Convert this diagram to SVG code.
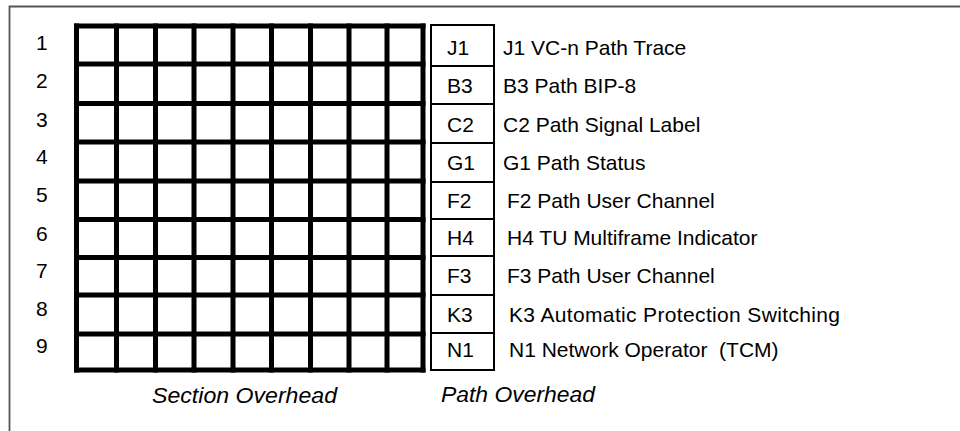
<svg xmlns="http://www.w3.org/2000/svg" width="960" height="431" viewBox="0 0 960 431">
<style>
text{font-family:"Liberation Sans",Arial,sans-serif;font-size:21px;fill:#000;white-space:pre}
.it{font-style:italic;font-size:22px}
.grid line{stroke:#000;stroke-width:5}
.poh rect{fill:#fff;stroke:#000;stroke-width:2}
.frame{stroke:#555;stroke-width:1.8;fill:none}
</style>
<rect width="960" height="431" fill="#fff"/>
<path class="frame" d="M9.5,431 V6.5 H960"/>
<g id="row-numbers">
<text x="36" y="50">1</text>
<text x="36" y="88">2</text>
<text x="36" y="127">3</text>
<text x="36" y="164">4</text>
<text x="36" y="202">5</text>
<text x="36" y="241">6</text>
<text x="36" y="278">7</text>
<text x="36" y="316">8</text>
<text x="36" y="353">9</text>
</g>
<g id="section-overhead" class="grid">
<rect x="76.5" y="26" width="346.5" height="344" fill="#fff"/>
<line x1="76.5" y1="23.5" x2="76.5" y2="372.5"/>
<line x1="116.5" y1="23.5" x2="116.5" y2="372.5"/>
<line x1="155.5" y1="23.5" x2="155.5" y2="372.5"/>
<line x1="194" y1="23.5" x2="194" y2="372.5"/>
<line x1="233" y1="23.5" x2="233" y2="372.5"/>
<line x1="271.5" y1="23.5" x2="271.5" y2="372.5"/>
<line x1="310.5" y1="23.5" x2="310.5" y2="372.5"/>
<line x1="349" y1="23.5" x2="349" y2="372.5"/>
<line x1="387" y1="23.5" x2="387" y2="372.5"/>
<line x1="423" y1="23.5" x2="423" y2="372.5"/>
<line x1="74" y1="26" x2="425.5" y2="26"/>
<line x1="74" y1="64" x2="425.5" y2="64"/>
<line x1="74" y1="103.5" x2="425.5" y2="103.5"/>
<line x1="74" y1="142" x2="425.5" y2="142"/>
<line x1="74" y1="181" x2="425.5" y2="181"/>
<line x1="74" y1="219.5" x2="425.5" y2="219.5"/>
<line x1="74" y1="257.5" x2="425.5" y2="257.5"/>
<line x1="74" y1="295" x2="425.5" y2="295"/>
<line x1="74" y1="334" x2="425.5" y2="334"/>
<line x1="74" y1="370" x2="425.5" y2="370"/>
</g>
<g class="poh">
<g id="J1"><rect x="431" y="25" width="63" height="41"/><text x="447" y="55">J1</text><text x="503" y="55">J1 VC-n Path Trace</text></g>
<g id="B3"><rect x="431" y="66" width="63" height="38"/><text x="447" y="93">B3</text><text x="503" y="93">B3 Path BIP-8</text></g>
<g id="C2"><rect x="431" y="104" width="63" height="39"/><text x="447" y="132">C2</text><text x="503" y="132">C2 Path Signal Label</text></g>
<g id="G1"><rect x="431" y="143" width="63" height="39"/><text x="447" y="170">G1</text><text x="503" y="170">G1 Path Status</text></g>
<g id="F2"><rect x="431" y="182" width="63" height="37"/><text x="447" y="208">F2</text><text x="507" y="208">F2 Path User Channel</text></g>
<g id="H4"><rect x="431" y="219" width="63" height="37"/><text x="447" y="245">H4</text><text x="507" y="245">H4 TU Multiframe Indicator</text></g>
<g id="F3"><rect x="431" y="256" width="63" height="39"/><text x="447" y="283">F3</text><text x="507" y="283">F3 Path User Channel</text></g>
<g id="K3"><rect x="431" y="295" width="63" height="38"/><text x="447" y="322">K3</text><text x="509" y="322" textLength="331" lengthAdjust="spacing">K3 Automatic Protection Switching</text></g>
<g id="N1"><rect x="431" y="333" width="63" height="37"/><text x="447" y="357">N1</text><text x="509" y="357" xml:space="preserve">N1 Network Operator  (TCM)</text></g>
</g>
<g id="captions">
<text class="it" x="152" y="403" textLength="185" lengthAdjust="spacingAndGlyphs">Section Overhead</text>
<text class="it" x="441" y="402" textLength="154" lengthAdjust="spacingAndGlyphs">Path Overhead</text>
</g>
</svg>
